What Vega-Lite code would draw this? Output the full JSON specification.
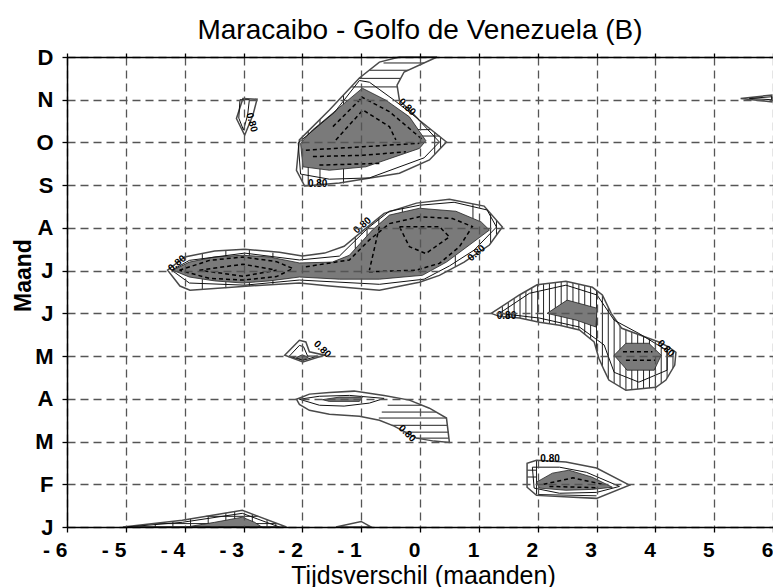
{
  "$schema": "https://vega.github.io/schema/vega-lite/v6.json",
  "width": 706,
  "height": 470,
  "autosize": "none",
  "padding": {"left": 67, "top": 57, "right": 0, "bottom": 60},
  "background": "white",
  "title": {"text": "Maracaibo - Golfo de Venezuela (B)", "font": "Liberation Sans", "fontSize": 28, "fontWeight": "normal", "color": "black", "baseline": "alphabetic", "offset": 19, "dy": 40, "anchor": "middle"},
  "config": {"view": {"stroke": null}, "font": "Liberation Sans"},
  "resolve": {"axis": {"x": "independent", "y": "independent"}},
  "datasets": {
    "fills": [
      {"g":"f1","o":1,"x":-2.03,"y":8.98},{"g":"f1","o":2,"x":-1.99,"y":8.43},{"g":"f1","o":3,"x":-1.54,"y":8.35},{"g":"f1","o":4,"x":-0.92,"y":8.43},{"g":"f1","o":5,"x":-0.01,"y":8.86},{"g":"f1","o":6,"x":0.10,"y":9.04},{"g":"f1","o":7,"x":-0.18,"y":9.60},{"g":"f1","o":8,"x":-0.58,"y":9.99},{"g":"f1","o":9,"x":-0.98,"y":10.27},{"g":"f1","o":10,"x":-1.49,"y":9.68},{"g":"f1","o":11,"x":-1.83,"y":9.29},
      {"g":"f3","o":1,"x":-4.20,"y":6.01},{"g":"f3","o":2,"x":-3.92,"y":6.20},{"g":"f3","o":3,"x":-3.49,"y":6.32},{"g":"f3","o":4,"x":-3.02,"y":6.36},{"g":"f3","o":5,"x":-2.56,"y":6.32},{"g":"f3","o":6,"x":-2.05,"y":6.18},{"g":"f3","o":7,"x":-1.49,"y":6.20},{"g":"f3","o":8,"x":-1.20,"y":6.36},{"g":"f3","o":9,"x":-0.81,"y":6.95},{"g":"f3","o":10,"x":-0.52,"y":7.30},{"g":"f3","o":11,"x":-0.01,"y":7.46},{"g":"f3","o":12,"x":0.61,"y":7.39},{"g":"f3","o":13,"x":1.04,"y":7.14},{"g":"f3","o":14,"x":1.18,"y":6.95},{"g":"f3","o":15,"x":0.84,"y":6.60},{"g":"f3","o":16,"x":0.45,"y":6.20},{"g":"f3","o":17,"x":0.04,"y":5.89},{"g":"f3","o":18,"x":-0.69,"y":5.80},{"g":"f3","o":19,"x":-1.37,"y":5.80},{"g":"f3","o":20,"x":-2.05,"y":5.85},{"g":"f3","o":21,"x":-2.56,"y":5.76},{"g":"f3","o":22,"x":-3.02,"y":5.71},{"g":"f3","o":23,"x":-3.49,"y":5.76},{"g":"f3","o":24,"x":-3.92,"y":5.85},
      {"g":"f4a","o":1,"x":2.16,"y":5.00},{"g":"f4a","o":2,"x":2.50,"y":5.31},{"g":"f4a","o":3,"x":3.01,"y":5.12},{"g":"f4a","o":4,"x":2.99,"y":4.68},{"g":"f4a","o":5,"x":2.66,"y":4.84},
      {"g":"f4b","o":1,"x":3.30,"y":4.02},{"g":"f4b","o":2,"x":3.50,"y":4.30},{"g":"f4b","o":3,"x":3.89,"y":4.30},{"g":"f4b","o":4,"x":4.10,"y":4.02},{"g":"f4b","o":5,"x":3.98,"y":3.67},{"g":"f4b","o":6,"x":3.52,"y":3.67},
      {"g":"f5","o":1,"x":-2.10,"y":3.97},{"g":"f5","o":2,"x":-2.0,"y":4.03},{"g":"f5","o":3,"x":-1.90,"y":3.97},{"g":"f5","o":4,"x":-2.0,"y":3.90},
      {"g":"f6","o":1,"x":-1.66,"y":2.98},{"g":"f6","o":2,"x":-1.37,"y":3.04},{"g":"f6","o":3,"x":-0.98,"y":3.04},{"g":"f6","o":4,"x":-1.03,"y":2.94},{"g":"f6","o":5,"x":-1.54,"y":2.94},
      {"g":"f7","o":1,"x":1.98,"y":1.05},{"g":"f7","o":2,"x":2.25,"y":1.26},{"g":"f7","o":3,"x":2.53,"y":1.33},{"g":"f7","o":4,"x":2.92,"y":1.17},{"g":"f7","o":5,"x":3.27,"y":0.93},{"g":"f7","o":6,"x":2.92,"y":0.88},{"g":"f7","o":7,"x":2.48,"y":0.86},{"g":"f7","o":8,"x":2.03,"y":0.91},
      {"g":"f8","o":1,"x":-3.97,"y":0},{"g":"f8","o":2,"x":-3.49,"y":0.11},{"g":"f8","o":3,"x":-3.02,"y":0.23},{"g":"f8","o":4,"x":-2.81,"y":0.11},{"g":"f8","o":5,"x":-2.69,"y":0}
    ],
    "outer": [
      {"g":"o1","o":1,"x":-2.10,"y":8.35},{"g":"o1","o":2,"x":-2.05,"y":9.06},{"g":"o1","o":3,"x":-1.54,"y":9.76},{"g":"o1","o":4,"x":-1.03,"y":10.51},{"g":"o1","o":5,"x":-0.69,"y":10.88},{"g":"o1","o":6,"x":-0.35,"y":11},{"g":"o1","o":7,"x":0.29,"y":11},{"g":"o1","o":8,"x":-0.27,"y":10.65},{"g":"o1","o":9,"x":-0.39,"y":10.34},{"g":"o1","o":10,"x":-0.35,"y":9.99},{"g":"o1","o":11,"x":-0.01,"y":9.52},{"g":"o1","o":12,"x":0.45,"y":9.01},{"g":"o1","o":13,"x":0.16,"y":8.59},{"g":"o1","o":14,"x":-0.35,"y":8.28},{"g":"o1","o":15,"x":-1.37,"y":8.05},{"g":"o1","o":16,"x":-1.96,"y":7.98},
      {"g":"o2","o":1,"x":-3.01,"y":10.03},{"g":"o2","o":2,"x":-2.77,"y":10.01},{"g":"o2","o":3,"x":-2.84,"y":9.64},{"g":"o2","o":4,"x":-2.98,"y":9.17},{"g":"o2","o":5,"x":-3.12,"y":9.56},
      {"g":"o3","o":1,"x":-4.29,"y":6.01},{"g":"o3","o":2,"x":-4.00,"y":6.32},{"g":"o3","o":3,"x":-3.49,"y":6.46},{"g":"o3","o":4,"x":-2.98,"y":6.50},{"g":"o3","o":5,"x":-2.39,"y":6.43},{"g":"o3","o":6,"x":-2.00,"y":6.34},{"g":"o3","o":7,"x":-1.62,"y":6.41},{"g":"o3","o":8,"x":-1.29,"y":6.57},{"g":"o3","o":9,"x":-1.00,"y":6.90},{"g":"o3","o":10,"x":-0.61,"y":7.34},{"g":"o3","o":11,"x":-0.06,"y":7.58},{"g":"o3","o":12,"x":0.50,"y":7.67},{"g":"o3","o":13,"x":1.09,"y":7.51},{"g":"o3","o":14,"x":1.40,"y":7.02},{"g":"o3","o":15,"x":1.18,"y":6.60},{"g":"o3","o":16,"x":0.75,"y":6.20},{"g":"o3","o":17,"x":0.33,"y":5.89},{"g":"o3","o":18,"x":-0.01,"y":5.73},{"g":"o3","o":19,"x":-0.69,"y":5.54},{"g":"o3","o":20,"x":-1.54,"y":5.64},{"g":"o3","o":21,"x":-2.05,"y":5.71},{"g":"o3","o":22,"x":-2.90,"y":5.64},{"g":"o3","o":23,"x":-3.91,"y":5.54},{"g":"o3","o":24,"x":-4.08,"y":5.64},
      {"g":"o4","o":1,"x":1.21,"y":5.00},{"g":"o4","o":2,"x":1.69,"y":5.43},{"g":"o4","o":3,"x":1.99,"y":5.67},{"g":"o4","o":4,"x":2.48,"y":5.75},{"g":"o4","o":5,"x":2.93,"y":5.61},{"g":"o4","o":6,"x":3.10,"y":5.43},{"g":"o4","o":7,"x":3.25,"y":5.00},{"g":"o4","o":8,"x":3.43,"y":4.65},{"g":"o4","o":9,"x":3.84,"y":4.44},{"g":"o4","o":10,"x":4.06,"y":4.33},{"g":"o4","o":11,"x":4.23,"y":4.21},{"g":"o4","o":12,"x":4.35,"y":4.09},{"g":"o4","o":13,"x":4.33,"y":3.79},{"g":"o4","o":14,"x":4.18,"y":3.44},{"g":"o4","o":15,"x":4.01,"y":3.27},{"g":"o4","o":16,"x":3.50,"y":3.20},{"g":"o4","o":17,"x":3.21,"y":3.44},{"g":"o4","o":18,"x":3.13,"y":3.67},{"g":"o4","o":19,"x":3.04,"y":3.95},{"g":"o4","o":20,"x":2.96,"y":4.33},{"g":"o4","o":21,"x":2.71,"y":4.61},{"g":"o4","o":22,"x":2.37,"y":4.72},{"g":"o4","o":23,"x":2.03,"y":4.79},{"g":"o4","o":24,"x":1.69,"y":4.89},{"g":"o4","o":25,"x":1.35,"y":4.93},
      {"g":"o5","o":1,"x":-2.30,"y":4.02},{"g":"o5","o":2,"x":-2.05,"y":4.37},{"g":"o5","o":3,"x":-1.94,"y":4.33},{"g":"o5","o":4,"x":-1.88,"y":4.10},{"g":"o5","o":5,"x":-1.62,"y":4.02},{"g":"o5","o":6,"x":-1.99,"y":3.86},
      {"g":"o6","o":1,"x":-2.10,"y":2.99},{"g":"o6","o":2,"x":-1.88,"y":3.11},{"g":"o6","o":3,"x":-1.54,"y":3.15},{"g":"o6","o":4,"x":-1.12,"y":3.18},{"g":"o6","o":5,"x":-0.61,"y":3.08},{"g":"o6","o":6,"x":-0.18,"y":2.97},{"g":"o6","o":7,"x":0.16,"y":2.78},{"g":"o6","o":8,"x":0.45,"y":2.55},{"g":"o6","o":9,"x":0.50,"y":1.98},{"g":"o6","o":10,"x":0.24,"y":2.01},{"g":"o6","o":11,"x":-0.06,"y":2.08},{"g":"o6","o":12,"x":-0.44,"y":2.36},{"g":"o6","o":13,"x":-0.69,"y":2.50},{"g":"o6","o":14,"x":-1.03,"y":2.59},{"g":"o6","o":15,"x":-1.54,"y":2.64},{"g":"o6","o":16,"x":-1.88,"y":2.73},{"g":"o6","o":17,"x":-2.05,"y":2.87},
      {"g":"o7","o":1,"x":1.82,"y":1.49},{"g":"o7","o":2,"x":1.82,"y":0.93},{"g":"o7","o":3,"x":1.98,"y":0.74},{"g":"o7","o":4,"x":3.00,"y":0.67},{"g":"o7","o":5,"x":3.56,"y":0.98},{"g":"o7","o":6,"x":3.00,"y":1.38},{"g":"o7","o":7,"x":2.48,"y":1.52},{"g":"o7","o":8,"x":1.98,"y":1.56},
      {"g":"o8","o":1,"x":-5.05,"y":0},{"g":"o8","o":2,"x":-4.04,"y":0.16},{"g":"o8","o":3,"x":-3.02,"y":0.39},{"g":"o8","o":4,"x":-2.27,"y":0},
      {"g":"o8b","o":1,"x":-1.43,"y":0},{"g":"o8b","o":2,"x":-1.00,"y":0.13},{"g":"o8b","o":3,"x":-0.83,"y":0},
      {"g":"o9","o":1,"x":5.45,"y":10.03},{"g":"o9","o":2,"x":5.98,"y":10.11},{"g":"o9","o":3,"x":5.98,"y":9.95}
    ],
    "middle": [
      {"g":"m1","o":1,"x":-2.07,"y":8.99},{"g":"m1","o":2,"x":-2.03,"y":8.26},{"g":"m1","o":3,"x":-1.54,"y":8.14},{"g":"m1","o":4,"x":-0.86,"y":8.17},{"g":"m1","o":5,"x":0.07,"y":8.64},{"g":"m1","o":6,"x":0.33,"y":9.01},{"g":"m1","o":7,"x":-0.05,"y":9.57},{"g":"m1","o":8,"x":-0.44,"y":9.99},{"g":"m1","o":9,"x":-0.86,"y":10.41},{"g":"m1","o":10,"x":-1.03,"y":10.45},{"g":"m1","o":11,"x":-1.45,"y":9.71},
      {"g":"m2","o":1,"x":-3.06,"y":10.00},{"g":"m2","o":2,"x":-2.90,"y":10.00},{"g":"m2","o":3,"x":-2.93,"y":9.64},{"g":"m2","o":4,"x":-3.00,"y":9.29},{"g":"m2","o":5,"x":-3.08,"y":9.57},
      {"g":"m3","o":1,"x":-4.22,"y":6.01},{"g":"m3","o":2,"x":-3.92,"y":6.24},{"g":"m3","o":3,"x":-2.98,"y":6.41},{"g":"m3","o":4,"x":-2.05,"y":6.25},{"g":"m3","o":5,"x":-1.37,"y":6.34},{"g":"m3","o":6,"x":-0.89,"y":6.99},{"g":"m3","o":7,"x":-0.52,"y":7.39},{"g":"m3","o":8,"x":-0.01,"y":7.53},{"g":"m3","o":9,"x":0.58,"y":7.60},{"g":"m3","o":10,"x":1.14,"y":7.42},{"g":"m3","o":11,"x":1.30,"y":7.02},{"g":"m3","o":12,"x":0.92,"y":6.48},{"g":"m3","o":13,"x":0.50,"y":6.11},{"g":"m3","o":14,"x":0.07,"y":5.80},{"g":"m3","o":15,"x":-0.69,"y":5.68},{"g":"m3","o":16,"x":-2.05,"y":5.78},{"g":"m3","o":17,"x":-2.98,"y":5.66},{"g":"m3","o":18,"x":-3.92,"y":5.71},
      {"g":"m4","o":1,"x":1.35,"y":5.00},{"g":"m4","o":2,"x":1.86,"y":5.47},{"g":"m4","o":3,"x":2.48,"y":5.66},{"g":"m4","o":4,"x":3.01,"y":5.43},{"g":"m4","o":5,"x":3.30,"y":4.84},{"g":"m4","o":6,"x":3.72,"y":4.53},{"g":"m4","o":7,"x":4.20,"y":4.13},{"g":"m4","o":8,"x":4.20,"y":3.67},{"g":"m4","o":9,"x":3.72,"y":3.39},{"g":"m4","o":10,"x":3.30,"y":3.62},{"g":"m4","o":11,"x":3.13,"y":4.26},{"g":"m4","o":12,"x":2.71,"y":4.68},{"g":"m4","o":13,"x":2.03,"y":4.89},
      {"g":"m5","o":1,"x":-2.22,"y":4.00},{"g":"m5","o":2,"x":-2.05,"y":4.25},{"g":"m5","o":3,"x":-1.98,"y":4.22},{"g":"m5","o":4,"x":-1.91,"y":4.00},{"g":"m5","o":5,"x":-1.74,"y":4.00},{"g":"m5","o":6,"x":-1.99,"y":3.90},
      {"g":"m6","o":1,"x":-2.05,"y":2.99},{"g":"m6","o":2,"x":-1.71,"y":3.06},{"g":"m6","o":3,"x":-1.20,"y":3.08},{"g":"m6","o":4,"x":-0.61,"y":3.01},{"g":"m6","o":5,"x":-0.86,"y":2.90},{"g":"m6","o":6,"x":-1.29,"y":2.83},{"g":"m6","o":7,"x":-1.71,"y":2.85},
      {"g":"m7","o":1,"x":1.91,"y":1.40},{"g":"m7","o":2,"x":1.94,"y":0.91},{"g":"m7","o":3,"x":2.37,"y":0.79},{"g":"m7","o":4,"x":3.00,"y":0.81},{"g":"m7","o":5,"x":3.39,"y":0.95},{"g":"m7","o":6,"x":2.83,"y":1.28},{"g":"m7","o":7,"x":2.37,"y":1.40},
      {"g":"m8","o":1,"x":-4.99,"y":0},{"g":"m8","o":2,"x":-4.04,"y":0.11},{"g":"m8","o":3,"x":-3.02,"y":0.32},{"g":"m8","o":4,"x":-2.61,"y":0.11},{"g":"m8","o":5,"x":-2.39,"y":0},
      {"g":"m9","o":1,"x":5.60,"y":10.03},{"g":"m9","o":2,"x":5.98,"y":10.07},{"g":"m9","o":3,"x":5.98,"y":10.00}
    ],
    "dashed": [
      {"g":"d1","o":1,"x":-1.00,"y":10.07},{"g":"d1","o":2,"x":-0.52,"y":9.72},{"g":"d1","o":3,"x":0.04,"y":9.07},
      {"g":"d2","o":1,"x":-1.48,"y":9.37},{"g":"d2","o":2,"x":-1.00,"y":10.03},
      {"g":"d3","o":1,"x":-1.94,"y":8.82},{"g":"d3","o":2,"x":-0.97,"y":8.90},{"g":"d3","o":3,"x":-0.01,"y":8.98},
      {"g":"d4","o":1,"x":-1.82,"y":8.67},{"g":"d4","o":2,"x":-0.97,"y":8.70},{"g":"d4","o":3,"x":-0.24,"y":8.78},
      {"g":"d5","o":1,"x":-1.71,"y":8.47},{"g":"d5","o":2,"x":-0.69,"y":8.51},
      {"g":"d6","o":1,"x":-1.43,"y":9.06},{"g":"d6","o":2,"x":-0.97,"y":9.76},{"g":"d6","o":3,"x":-0.52,"y":9.37},{"g":"d6","o":4,"x":-0.41,"y":9.06},
      {"g":"e1","o":1,"x":-1.94,"y":6.09},{"g":"e1","o":2,"x":-1.20,"y":6.25},{"g":"e1","o":3,"x":-0.86,"y":6.72},{"g":"e1","o":4,"x":-0.52,"y":7.10},{"g":"e1","o":5,"x":-0.01,"y":7.26},{"g":"e1","o":6,"x":0.55,"y":7.22},{"g":"e1","o":7,"x":0.89,"y":7.03},{"g":"e1","o":8,"x":0.67,"y":6.56},{"g":"e1","o":9,"x":0.33,"y":6.17},{"g":"e1","o":10,"x":-0.07,"y":6.01},{"g":"e1","o":11,"x":-0.92,"y":5.97},
      {"g":"e2","o":1,"x":-0.35,"y":7.03},{"g":"e2","o":2,"x":0.33,"y":7.03},{"g":"e2","o":3,"x":0.50,"y":6.79},{"g":"e2","o":4,"x":0.10,"y":6.40},{"g":"e2","o":5,"x":-0.18,"y":6.56},{"g":"e2","o":6,"x":-0.35,"y":7.03},
      {"g":"e3","o":1,"x":-0.69,"y":7.03},{"g":"e3","o":2,"x":-0.86,"y":6.01},
      {"g":"e4","o":1,"x":-4.09,"y":6.01},{"g":"e4","o":2,"x":-3.58,"y":6.24},{"g":"e4","o":3,"x":-3.01,"y":6.32},{"g":"e4","o":4,"x":-2.44,"y":6.21},{"g":"e4","o":5,"x":-2.16,"y":6.05},{"g":"e4","o":6,"x":-2.44,"y":5.86},{"g":"e4","o":7,"x":-3.01,"y":5.78},{"g":"e4","o":8,"x":-3.58,"y":5.82},{"g":"e4","o":9,"x":-4.09,"y":6.01},
      {"g":"e5","o":1,"x":-3.75,"y":6.01},{"g":"e5","o":2,"x":-3.01,"y":6.15},{"g":"e5","o":3,"x":-2.44,"y":6.01},{"g":"e5","o":4,"x":-3.01,"y":5.87},{"g":"e5","o":5,"x":-3.75,"y":6.01},
      {"g":"k1","o":1,"x":3.45,"y":4.10},{"g":"k1","o":2,"x":3.95,"y":4.10},
      {"g":"k2","o":1,"x":3.50,"y":3.90},{"g":"k2","o":2,"x":4.00,"y":3.90},
      {"g":"k3","o":1,"x":2.10,"y":1.00},{"g":"k3","o":2,"x":2.60,"y":1.15},{"g":"k3","o":3,"x":3.10,"y":1.00},
      {"g":"k4","o":1,"x":2.20,"y":0.95},{"g":"k4","o":2,"x":3.00,"y":0.92}
    ],
    "hatch": [
      {"g":"a1","o":1,"x":1.4,"y":4.92},{"g":"a1","o":2,"x":1.4,"y":5.17},
      {"g":"a2","o":1,"x":1.5,"y":4.91},{"g":"a2","o":2,"x":1.5,"y":5.26},
      {"g":"a3","o":1,"x":1.6,"y":4.90},{"g":"a3","o":2,"x":1.6,"y":5.35},
      {"g":"a4","o":1,"x":1.7,"y":4.89},{"g":"a4","o":2,"x":1.7,"y":5.44},
      {"g":"a5","o":1,"x":1.8,"y":4.86},{"g":"a5","o":2,"x":1.8,"y":5.52},
      {"g":"a6","o":1,"x":1.9,"y":4.83},{"g":"a6","o":2,"x":1.9,"y":5.60},
      {"g":"a7","o":1,"x":2.0,"y":4.80},{"g":"a7","o":2,"x":2.0,"y":5.67},
      {"g":"a8","o":1,"x":2.1,"y":4.78},{"g":"a8","o":2,"x":2.1,"y":5.69},
      {"g":"a9","o":1,"x":2.2,"y":4.76},{"g":"a9","o":2,"x":2.2,"y":5.70},
      {"g":"a10","o":1,"x":2.3,"y":4.74},{"g":"a10","o":2,"x":2.3,"y":5.72},
      {"g":"a11","o":1,"x":2.4,"y":4.71},{"g":"a11","o":2,"x":2.4,"y":5.74},
      {"g":"a12","o":1,"x":2.5,"y":4.68},{"g":"a12","o":2,"x":2.5,"y":5.74},
      {"g":"a13","o":1,"x":2.6,"y":4.65},{"g":"a13","o":2,"x":2.6,"y":5.71},
      {"g":"a14","o":1,"x":2.7,"y":4.61},{"g":"a14","o":2,"x":2.7,"y":5.68},
      {"g":"a15","o":1,"x":2.8,"y":4.51},{"g":"a15","o":2,"x":2.8,"y":5.65},
      {"g":"a16","o":1,"x":2.9,"y":4.40},{"g":"a16","o":2,"x":2.9,"y":5.62},
      {"g":"a17","o":1,"x":3.0,"y":4.14},{"g":"a17","o":2,"x":3.0,"y":5.54},
      {"g":"a18","o":1,"x":3.1,"y":3.76},{"g":"a18","o":2,"x":3.1,"y":5.43},
      {"g":"a19","o":1,"x":3.2,"y":3.47},{"g":"a19","o":2,"x":3.2,"y":5.14},
      {"g":"a20","o":1,"x":3.3,"y":3.37},{"g":"a20","o":2,"x":3.3,"y":4.90},
      {"g":"a21","o":1,"x":3.4,"y":3.28},{"g":"a21","o":2,"x":3.4,"y":4.71},
      {"g":"a22","o":1,"x":3.5,"y":3.20},{"g":"a22","o":2,"x":3.5,"y":4.61},
      {"g":"a23","o":1,"x":3.6,"y":3.21},{"g":"a23","o":2,"x":3.6,"y":4.56},
      {"g":"a24","o":1,"x":3.7,"y":3.23},{"g":"a24","o":2,"x":3.7,"y":4.51},
      {"g":"a25","o":1,"x":3.8,"y":3.24},{"g":"a25","o":2,"x":3.8,"y":4.46},
      {"g":"a26","o":1,"x":3.9,"y":3.25},{"g":"a26","o":2,"x":3.9,"y":4.41},
      {"g":"a27","o":1,"x":4.0,"y":3.27},{"g":"a27","o":2,"x":4.0,"y":4.36},
      {"g":"a28","o":1,"x":4.1,"y":3.36},{"g":"a28","o":2,"x":4.1,"y":4.30},
      {"g":"a29","o":1,"x":4.2,"y":3.49},{"g":"a29","o":2,"x":4.2,"y":4.23},
      {"g":"a30","o":1,"x":4.3,"y":3.72},{"g":"a30","o":2,"x":4.3,"y":4.14},
      {"g":"b1","o":1,"x":-0.62,"y":10.86},{"g":"b1","o":2,"x":0.07,"y":10.86},
      {"g":"b2","o":1,"x":-0.86,"y":10.69},{"g":"b2","o":2,"x":-0.20,"y":10.69},
      {"g":"b3","o":1,"x":-1.04,"y":10.50},{"g":"b3","o":2,"x":-0.33,"y":10.50},
      {"g":"b4","o":1,"x":-1.17,"y":10.30},{"g":"b4","o":2,"x":-0.39,"y":10.30},
      {"g":"b5","o":1,"x":-0.10,"y":9.30},{"g":"b5","o":2,"x":0.19,"y":9.30},
      {"g":"b6","o":1,"x":0.00,"y":9.15},{"g":"b6","o":2,"x":0.33,"y":9.15},
      {"g":"b7","o":1,"x":0.25,"y":8.72},{"g":"b7","o":2,"x":0.25,"y":9.24},
      {"g":"b8","o":1,"x":0.35,"y":8.87},{"g":"b8","o":2,"x":0.35,"y":9.12},
      {"g":"b9","o":1,"x":-1.90,"y":7.98},{"g":"b9","o":2,"x":-1.90,"y":9.27},
      {"g":"b10","o":1,"x":-1.70,"y":8.00},{"g":"b10","o":2,"x":-1.70,"y":9.54},
      {"g":"b11","o":1,"x":-1.30,"y":8.04},{"g":"b11","o":2,"x":-1.30,"y":10.11},
      {"g":"c1","o":1,"x":-1.1,"y":6.51},{"g":"c1","o":2,"x":-1.1,"y":6.79},
      {"g":"c2","o":1,"x":-0.9,"y":6.81},{"g":"c2","o":2,"x":-0.9,"y":7.01},
      {"g":"c3","o":1,"x":-0.7,"y":7.08},{"g":"c3","o":2,"x":-0.7,"y":7.24},
      {"g":"c4","o":1,"x":1.2,"y":6.64},{"g":"c4","o":2,"x":1.2,"y":7.34},
      {"g":"c5","o":1,"x":1.3,"y":6.83},{"g":"c5","o":2,"x":1.3,"y":7.18},
      {"g":"c6","o":1,"x":-3.7,"y":6.26},{"g":"c6","o":2,"x":-3.7,"y":6.40},
      {"g":"c7","o":1,"x":-3.3,"y":6.34},{"g":"c7","o":2,"x":-3.3,"y":6.47},
      {"g":"c8","o":1,"x":-2.9,"y":6.35},{"g":"c8","o":2,"x":-2.9,"y":6.49},
      {"g":"c9","o":1,"x":-2.5,"y":6.30},{"g":"c9","o":2,"x":-2.5,"y":6.42},
      {"g":"c10","o":1,"x":-3.7,"y":5.56},{"g":"c10","o":2,"x":-3.7,"y":5.80},
      {"g":"c11","o":1,"x":-3.3,"y":5.59},{"g":"c11","o":2,"x":-3.3,"y":5.74},
      {"g":"c12","o":1,"x":-2.9,"y":5.64},{"g":"c12","o":2,"x":-2.9,"y":5.72},
      {"g":"c13","o":1,"x":-2.5,"y":5.67},{"g":"c13","o":2,"x":-2.5,"y":5.77},
      {"g":"c14","o":1,"x":0.9,"y":7.22},{"g":"c14","o":2,"x":0.9,"y":7.56},
      {"g":"c15","o":1,"x":-0.3,"y":7.37},{"g":"c15","o":2,"x":-0.3,"y":7.48},
      {"g":"c16","o":1,"x":0.6,"y":6.09},{"g":"c16","o":2,"x":0.6,"y":6.35},
      {"g":"h1","o":1,"x":-0.55,"y":2.85},{"g":"h1","o":2,"x":0.03,"y":2.85},
      {"g":"h2","o":1,"x":-0.65,"y":2.69},{"g":"h2","o":2,"x":0.27,"y":2.69},
      {"g":"h3","o":1,"x":-0.70,"y":2.55},{"g":"h3","o":2,"x":0.45,"y":2.55},
      {"g":"h4","o":1,"x":-0.48,"y":2.38},{"g":"h4","o":2,"x":0.47,"y":2.38},
      {"g":"h5","o":1,"x":-0.25,"y":2.22},{"g":"h5","o":2,"x":0.49,"y":2.22},
      {"g":"h6","o":1,"x":-0.06,"y":2.08},{"g":"h6","o":2,"x":0.49,"y":2.08},
      {"g":"i1","o":1,"x":-4.8,"y":0},{"g":"i1","o":2,"x":-4.8,"y":0.04},
      {"g":"i2","o":1,"x":-4.5,"y":0},{"g":"i2","o":2,"x":-4.5,"y":0.09},
      {"g":"i3","o":1,"x":-4.2,"y":0},{"g":"i3","o":2,"x":-4.2,"y":0.135},
      {"g":"i4","o":1,"x":-3.9,"y":0},{"g":"i4","o":2,"x":-3.9,"y":0.19},
      {"g":"i5","o":1,"x":-3.6,"y":0},{"g":"i5","o":2,"x":-3.6,"y":0.26},
      {"g":"i6","o":1,"x":-3.3,"y":0},{"g":"i6","o":2,"x":-3.3,"y":0.33},
      {"g":"i7","o":1,"x":-3.15,"y":0},{"g":"i7","o":2,"x":-3.15,"y":0.36},
      {"g":"i8","o":1,"x":-2.85,"y":0},{"g":"i8","o":2,"x":-2.85,"y":0.30},
      {"g":"i9","o":1,"x":-2.6,"y":0},{"g":"i9","o":2,"x":-2.6,"y":0.17},
      {"g":"i10","o":1,"x":-2.45,"y":0},{"g":"i10","o":2,"x":-2.45,"y":0.09},
      {"g":"i11","o":1,"x":-4.54,"y":0.08},{"g":"i11","o":2,"x":-2.42,"y":0.08},
      {"g":"i12","o":1,"x":-3.64,"y":0.25},{"g":"i12","o":2,"x":-2.75,"y":0.25},
      {"g":"j1","o":1,"x":1.82,"y":1.33},{"g":"j1","o":2,"x":1.98,"y":1.33},
      {"g":"j2","o":1,"x":1.82,"y":1.17},{"g":"j2","o":2,"x":1.98,"y":1.17},
      {"g":"j3","o":1,"x":1.98,"y":0.76},{"g":"j3","o":2,"x":1.98,"y":1.56},
      {"g":"j4","o":1,"x":2.00,"y":0.76},{"g":"j4","o":2,"x":3.00,"y":0.73}
    ],
    "lab_flat": [
      {"t":"0.80","x":-1.74,"y":8.02},
      {"t":"0.80","x":1.47,"y":4.95},
      {"t":"0.80","x":2.21,"y":1.58}
    ],
    "lab_down": [
      {"t":"0.80","x":-0.22,"y":9.83},
      {"t":"0.80","x":4.18,"y":4.18},
      {"t":"0.80","x":-1.66,"y":4.16},
      {"t":"0.80","x":-0.22,"y":2.19}
    ],
    "lab_up": [
      {"t":"0.80","x":-4.13,"y":6.17},
      {"t":"0.80","x":-0.98,"y":7.06},
      {"t":"0.80","x":0.96,"y":6.41}
    ],
    "lab_vert": [
      {"t":"0.80","x":-2.86,"y":9.47}
    ]
  },
  "encoding": {
    "x": {"field": "x", "type": "quantitative", "scale": {"domain": [-6, 6], "nice": false, "zero": false}, "axis": null},
    "y": {"field": "y", "type": "quantitative", "scale": {"domain": [0, 11], "nice": false, "zero": false}, "axis": null}
  },
  "layer": [
    {
      "data": {"name": "hatch"},
      "mark": {"type": "line", "stroke": "#222222", "strokeWidth": 1},
      "encoding": {"detail": {"field": "g"}, "order": {"field": "o", "type": "quantitative"}}
    },
    {
      "data": {"name": "fills"},
      "mark": {"type": "line", "interpolate": "linear-closed", "fill": "#7a7a7a", "stroke": "#222222", "strokeWidth": 0.8},
      "encoding": {"detail": {"field": "g"}, "order": {"field": "o", "type": "quantitative"}}
    },
    {
      "data": {"name": "outer"},
      "mark": {"type": "line", "interpolate": "linear-closed", "stroke": "#4a4a4a", "strokeWidth": 1.5},
      "encoding": {"detail": {"field": "g"}, "order": {"field": "o", "type": "quantitative"}}
    },
    {
      "data": {"name": "middle"},
      "mark": {"type": "line", "interpolate": "linear-closed", "stroke": "#111111", "strokeWidth": 1},
      "encoding": {"detail": {"field": "g"}, "order": {"field": "o", "type": "quantitative"}}
    },
    {
      "data": {"name": "dashed"},
      "mark": {"type": "line", "stroke": "#000000", "strokeWidth": 1.5, "strokeDash": [4, 3]},
      "encoding": {"detail": {"field": "g"}, "order": {"field": "o", "type": "quantitative"}}
    },
    {
      "data": {"name": "lab_flat"},
      "mark": {"type": "text", "font": "Liberation Sans", "fontSize": 10, "fontWeight": "bold", "color": "black", "angle": 0},
      "encoding": {"text": {"field": "t"}}
    },
    {
      "data": {"name": "lab_down"},
      "mark": {"type": "text", "font": "Liberation Sans", "fontSize": 10, "fontWeight": "bold", "color": "black", "angle": 45},
      "encoding": {"text": {"field": "t"}}
    },
    {
      "data": {"name": "lab_up"},
      "mark": {"type": "text", "font": "Liberation Sans", "fontSize": 10, "fontWeight": "bold", "color": "black", "angle": -40},
      "encoding": {"text": {"field": "t"}}
    },
    {
      "data": {"name": "lab_vert"},
      "mark": {"type": "text", "font": "Liberation Sans", "fontSize": 10, "fontWeight": "bold", "color": "black", "angle": 75},
      "encoding": {"text": {"field": "t"}}
    },
    {
      "data": {"name": "lab_vert"},
      "mark": {"type": "point", "opacity": 0},
      "encoding": {
        "x": {"field": "x", "type": "quantitative", "scale": {"domain": [-6, 6], "nice": false, "zero": false},
          "axis": {"orient": "bottom", "values": [-6,-5,-4,-3,-2,-1,0,1,2,3,4,5,6], "grid": true, "gridDash": [8, 5], "gridColor": "#555555", "gridWidth": 1.3,
            "domainColor": "black", "domainWidth": 1.5, "tickColor": "black", "tickSize": 5, "tickWidth": 1.3,
            "labelFont": "Liberation Sans", "labelFontSize": 21, "labelFontWeight": "bold", "labelColor": "black", "labelPadding": 7,
            "labelAlign": "right", "labelDx": 7, "labelBaseline": "top", "labelFlush": false, "labelOverlap": false, "labelBound": false,
            "labelExpr": "datum.value < 0 ? '- ' + abs(datum.value) : datum.label",
            "title": "Tijdsverschil (maanden)", "titleFont": "Liberation Sans", "titleFontSize": 25, "titleFontWeight": "normal", "titleColor": "black",
            "titleBaseline": "alphabetic", "titleY": 56, "titleX": 356, "zindex": 1}},
        "y": {"field": "y", "type": "quantitative", "scale": {"domain": [0, 11], "nice": false, "zero": false},
          "axis": {"orient": "left", "values": [0,1,2,3,4,5,6,7,8,9,10,11], "grid": true, "gridDash": [8, 5], "gridColor": "#555555", "gridWidth": 1.3,
            "domainColor": "black", "domainWidth": 1.5, "tickColor": "black", "tickSize": 5, "tickWidth": 1.3,
            "labelFont": "Liberation Sans", "labelFontSize": 22, "labelFontWeight": "bold", "labelColor": "black", "labelPadding": 9,
            "labelOverlap": false, "labelFlush": false, "labelBound": false, "labelDy": 2,
            "labelExpr": "['J','F','M','A','M','J','J','A','S','O','N','D'][datum.value]",
            "title": "Maand", "titleFont": "Liberation Sans", "titleFontSize": 23, "titleFontWeight": "bold", "titleColor": "black",
            "titleAngle": -90, "titleBaseline": "alphabetic", "titleAlign": "center", "titleX": -37, "titleY": 218, "zindex": 1}}
      }
    },
    {
      "data": {"name": "lab_vert"},
      "mark": {"type": "point", "opacity": 0},
      "encoding": {
        "x": {"field": "x", "type": "quantitative", "scale": {"domain": [-6, 6], "nice": false, "zero": false},
          "axis": {"orient": "top", "values": [-6,-5,-4,-3,-2,-1,0,1,2,3,4,5,6], "grid": false, "labels": false, "title": null,
            "domainColor": "black", "domainWidth": 1.5, "tickColor": "black", "tickSize": 4, "tickWidth": 1.3, "zindex": 1}}
      }
    }
  ]
}
